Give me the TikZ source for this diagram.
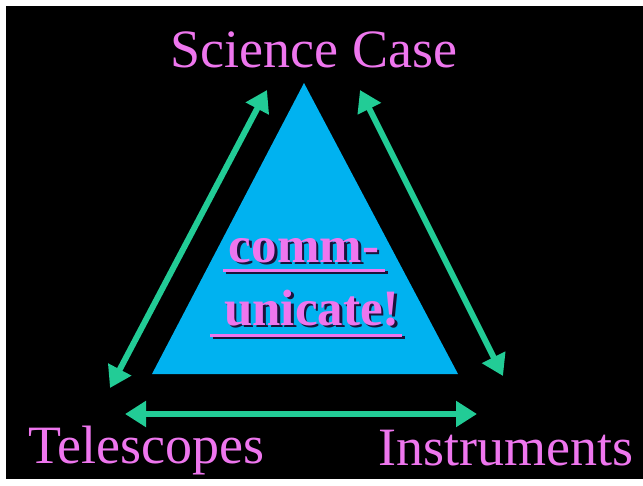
\documentclass[tikz,border=0pt]{standalone}
\usepackage{fontspec}
\setmainfont{Liberation Serif}
\usetikzlibrary{arrows.meta}
\definecolor{labelpink}{RGB}{238,118,238}
\definecolor{tricyan}{RGB}{0,178,240}
\definecolor{arrowgreen}{RGB}{34,204,150}
\definecolor{shadowdark}{RGB}{25,20,60}
\newcommand{\shadowtext}[1]{\rlap{\hspace{2.5pt}\raisebox{-2.5pt}{\color{shadowdark}#1}}{\color{labelpink}#1}}
\tikzset{
  label/.style={text=labelpink, font=\fontsize{54}{60}\selectfont, inner sep=0pt, anchor=base},
  center/.style={font=\bfseries\fontsize{51}{56}\selectfont, inner sep=0pt, anchor=base},
  link/.style={draw=arrowgreen, line width=6pt, {Triangle[length=21pt,width=25pt]}-{Triangle[length=21pt,width=25pt]}},
  uline/.style={line width=3pt}
}
\begin{document}
\begin{tikzpicture}[x=1pt,y=-1pt]
\useasboundingbox (0,0) rectangle (643,485);
\fill[white] (0,0) rectangle (643,485);
\fill[black] (6,6) rectangle (643,479);
% triangle
\fill[tricyan] (304,83) -- (458,374) -- (152,374) -- cycle;
% labels
\node[label] (sci) at (314,67) {Science Case};
\node[label, anchor=base west] (tel) at (28,463) {Telescopes};
\node[label, anchor=base west] (ins) at (378,465) {Instruments};
% center text with shadow and underlines
\draw[shadowdark, uline] (225.5,272.5) -- (387.5,272.5);
\draw[shadowdark, uline] (212.5,337.5) -- (404.5,337.5);
\draw[labelpink, uline] (223,270) -- (385,270);
\draw[labelpink, uline] (210,335) -- (402,335);
\node[center] (c1) at (304,262) {\shadowtext{comm-}};
\node[center] (c2) at (312,325) {\shadowtext{unicate!}};
% arrows
\coordinate (la) at (267,90);
\coordinate (lb) at (110,388);
\coordinate (ra) at (360,90);
\coordinate (rb) at (503,376);
\coordinate (ba) at (125,414);
\coordinate (bb) at (477,414);
\draw[link] (la) -- (lb);
\draw[link] (ra) -- (rb);
\draw[link] (ba) -- (bb);
\end{tikzpicture}
\end{document}
